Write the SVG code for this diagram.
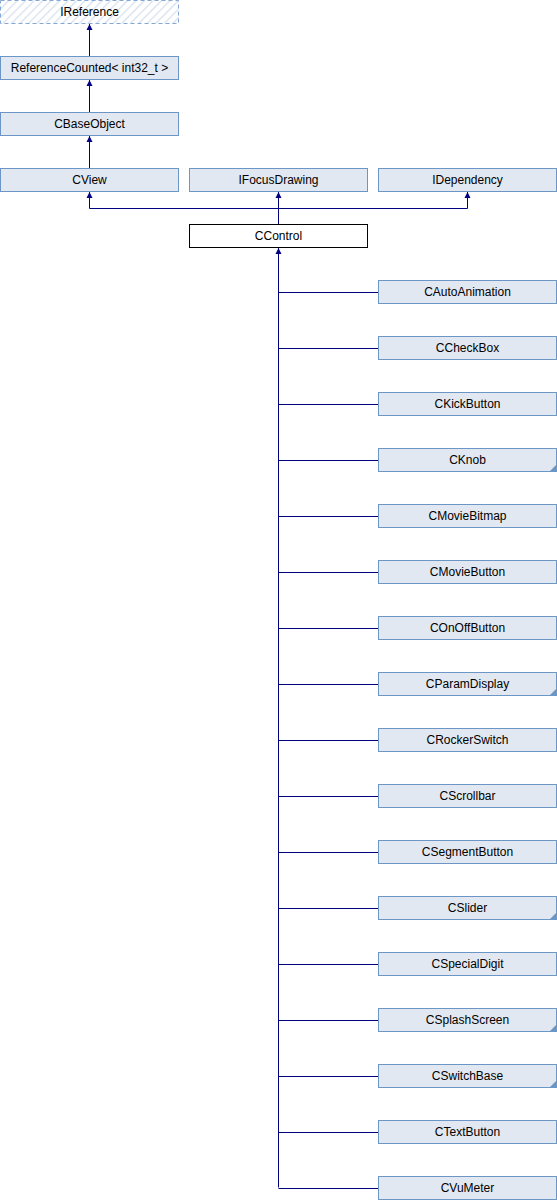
<svg xmlns="http://www.w3.org/2000/svg" width="557" height="1200" viewBox="0 0 557 1200">
<style>
  .box { fill: #E2E8F2; stroke: #6C96C6; stroke-width: 1; }
  .sel { fill: #FFFFFF; stroke: #000000; stroke-width: 1; }
  .ext { fill: url(#hatch); stroke: #84A7D4; stroke-width: 1; stroke-dasharray: 4 3; }
  .lbl { font-family: "Liberation Sans", Arial, sans-serif; font-size: 12px; fill: #000000; text-anchor: middle; }
  .edge { fill: none; stroke: #000080; stroke-width: 1; }
  .tri { fill: #6C96C6; }
</style>
<defs>
  <pattern id="hatch" patternUnits="userSpaceOnUse" width="6" height="6" patternTransform="rotate(45)">
    <rect width="6" height="6" fill="#FFFFFF"/>
    <line x1="0" y1="0" x2="0" y2="6" stroke="#D6E0EE" stroke-width="2.5"/>
  </pattern>
</defs>

<!-- inheritance connectors -->
<g id="connectors">
  <path class="edge" d="M89.5,56 V24"/>
  <path class="edge" d="M89.5,112 V80"/>
  <path class="edge" d="M89.5,168 V136"/>
  <path class="edge" d="M278.5,224 V208.5 H89.5 V192"/>
  <path class="edge" d="M278.5,208.5 V192"/>
  <path class="edge" d="M278.5,208.5 H467.5 V192"/>
  <path class="edge" d="M278.5,1187.5 V248"/>
  <path class="edge" d="M278.5,292.5 H378 M278.5,348.5 H378 M278.5,404.5 H378 M278.5,460.5 H378 M278.5,516.5 H378 M278.5,572.5 H378 M278.5,628.5 H378 M278.5,684.5 H378 M278.5,740.5 H378 M278.5,796.5 H378 M278.5,852.5 H378 M278.5,908.5 H378 M278.5,964.5 H378 M278.5,1020.5 H378 M278.5,1076.5 H378 M278.5,1132.5 H378 M278.5,1188.5 H378"/>
  <g fill="#000080">
    <path d="M86.5,30 L89.5,24 L92.5,30 Z"/>
    <path d="M86.5,86 L89.5,80 L92.5,86 Z"/>
    <path d="M86.5,142 L89.5,136 L92.5,142 Z"/>
    <path d="M86.5,198 L89.5,192 L92.5,198 Z"/>
    <path d="M275.5,198 L278.5,192 L281.5,198 Z"/>
    <path d="M464.5,198 L467.5,192 L470.5,198 Z"/>
    <path d="M275.5,254 L278.5,248 L281.5,254 Z"/>
  </g>
</g>

<g id="IReference">
  <rect class="ext" x="0.5" y="0.5" width="178" height="23"/>
  <text class="lbl" x="89.5" y="15.5">IReference</text>
</g>
<g id="ReferenceCounted">
  <rect class="box" x="0.5" y="56.5" width="178" height="23"/>
  <text class="lbl" x="89.5" y="71.5">ReferenceCounted&lt; int32_t &gt;</text>
</g>
<g id="CBaseObject">
  <rect class="box" x="0.5" y="112.5" width="178" height="23"/>
  <text class="lbl" x="89.5" y="127.5">CBaseObject</text>
</g>
<g id="CView">
  <rect class="box" x="0.5" y="168.5" width="178" height="23"/>
  <text class="lbl" x="89.5" y="183.5">CView</text>
</g>
<g id="IFocusDrawing">
  <rect class="box" x="189.5" y="168.5" width="178" height="23"/>
  <text class="lbl" x="278.5" y="183.5">IFocusDrawing</text>
</g>
<g id="IDependency">
  <rect class="box" x="378.5" y="168.5" width="178" height="23"/>
  <text class="lbl" x="467.5" y="183.5">IDependency</text>
</g>
<g id="CControl">
  <rect class="sel" x="189.5" y="224.5" width="178" height="23"/>
  <text class="lbl" x="278.5" y="239.5">CControl</text>
</g>

<g id="CAutoAnimation">
  <rect class="box" x="378.5" y="280.5" width="178" height="23"/>
  <text class="lbl" x="467.5" y="295.5">CAutoAnimation</text>
</g>
<g id="CCheckBox">
  <rect class="box" x="378.5" y="336.5" width="178" height="23"/>
  <text class="lbl" x="467.5" y="351.5">CCheckBox</text>
</g>
<g id="CKickButton">
  <rect class="box" x="378.5" y="392.5" width="178" height="23"/>
  <text class="lbl" x="467.5" y="407.5">CKickButton</text>
</g>
<g id="CKnob">
  <rect class="box" x="378.5" y="448.5" width="178" height="23"/>
  <path class="tri" d="M556,465 V471 H550 Z"/>
  <text class="lbl" x="467.5" y="463.5">CKnob</text>
</g>
<g id="CMovieBitmap">
  <rect class="box" x="378.5" y="504.5" width="178" height="23"/>
  <text class="lbl" x="467.5" y="519.5">CMovieBitmap</text>
</g>
<g id="CMovieButton">
  <rect class="box" x="378.5" y="560.5" width="178" height="23"/>
  <text class="lbl" x="467.5" y="575.5">CMovieButton</text>
</g>
<g id="COnOffButton">
  <rect class="box" x="378.5" y="616.5" width="178" height="23"/>
  <text class="lbl" x="467.5" y="631.5">COnOffButton</text>
</g>
<g id="CParamDisplay">
  <rect class="box" x="378.5" y="672.5" width="178" height="23"/>
  <path class="tri" d="M556,689 V695 H550 Z"/>
  <text class="lbl" x="467.5" y="687.5">CParamDisplay</text>
</g>
<g id="CRockerSwitch">
  <rect class="box" x="378.5" y="728.5" width="178" height="23"/>
  <text class="lbl" x="467.5" y="743.5">CRockerSwitch</text>
</g>
<g id="CScrollbar">
  <rect class="box" x="378.5" y="784.5" width="178" height="23"/>
  <text class="lbl" x="467.5" y="799.5">CScrollbar</text>
</g>
<g id="CSegmentButton">
  <rect class="box" x="378.5" y="840.5" width="178" height="23"/>
  <text class="lbl" x="467.5" y="855.5">CSegmentButton</text>
</g>
<g id="CSlider">
  <rect class="box" x="378.5" y="896.5" width="178" height="23"/>
  <path class="tri" d="M556,913 V919 H550 Z"/>
  <text class="lbl" x="467.5" y="911.5">CSlider</text>
</g>
<g id="CSpecialDigit">
  <rect class="box" x="378.5" y="952.5" width="178" height="23"/>
  <text class="lbl" x="467.5" y="967.5">CSpecialDigit</text>
</g>
<g id="CSplashScreen">
  <rect class="box" x="378.5" y="1008.5" width="178" height="23"/>
  <path class="tri" d="M556,1025 V1031 H550 Z"/>
  <text class="lbl" x="467.5" y="1023.5">CSplashScreen</text>
</g>
<g id="CSwitchBase">
  <rect class="box" x="378.5" y="1064.5" width="178" height="23"/>
  <path class="tri" d="M556,1081 V1087 H550 Z"/>
  <text class="lbl" x="467.5" y="1079.5">CSwitchBase</text>
</g>
<g id="CTextButton">
  <rect class="box" x="378.5" y="1120.5" width="178" height="23"/>
  <text class="lbl" x="467.5" y="1135.5">CTextButton</text>
</g>
<g id="CVuMeter">
  <rect class="box" x="378.5" y="1176.5" width="178" height="23"/>
  <text class="lbl" x="467.5" y="1191.5">CVuMeter</text>
</g>
</svg>
